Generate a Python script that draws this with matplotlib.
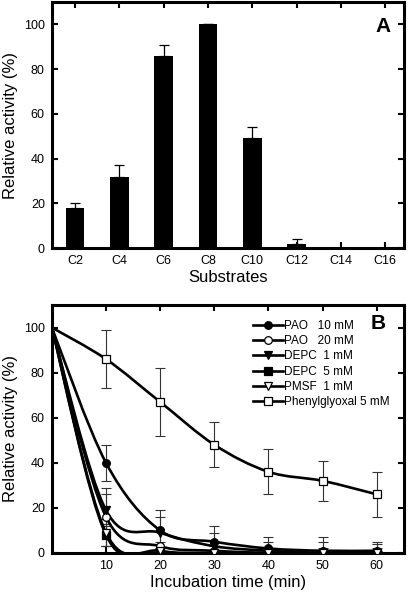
import matplotlib
matplotlib.use('Agg')
import matplotlib.pyplot as plt
import numpy as np
from matplotlib.path import Path
from matplotlib.patches import PathPatch

plt.rcParams['font.family'] = ['Liberation Sans', 'DejaVu Sans']

# panel A data
substrates = ['C2', 'C4', 'C6', 'C8', 'C10', 'C12', 'C14', 'C16']
activity = [18, 32, 86, 100, 49, 2, 0, 0]
activity_err = [2, 5, 5, 0, 5, 2, 0, 0]

# panel B data
time_min = [0, 10, 20, 30, 40, 50, 60]
pao10 = [100, 40, 10, 5, 2, 1, 1]
pao10_err = [0, 8, 9, 7, 5, 6, 4]
pao20 = [100, 16, 3, 1, 0, 0, 0]
pao20_err = [0, 13, 2, 2, 2, 2, 2]
depc1 = [100, 19, 9, 3, 1, 0, 0]
depc1_err = [0, 7, 7, 6, 4, 5, 4]
depc5 = [100, 8, 0, 0, 0, 0, 0]
depc5_err = [0, 5, 1, 1, 1, 1, 1]
pmsf1 = [100, 9, 1, 0, 0, 0, 0]
pmsf1_err = [0, 6, 1, 1, 1, 1, 1]
phenyl5 = [100, 86, 67, 48, 36, 32, 26]
phenyl5_err = [0, 13, 15, 10, 10, 9, 10]


def smooth_path(x, y):
    # Catmull-Rom segments written as cubic Bezier path pieces
    x = np.asarray(x, float); y = np.asarray(y, float)
    pts = np.column_stack([x, y])
    verts = [pts[0]]; codes = [Path.MOVETO]
    n = len(pts)
    for i in range(n - 1):
        p0 = pts[max(i - 1, 0)]; p1 = pts[i]; p2 = pts[i + 1]; p3 = pts[min(i + 2, n - 1)]
        c1 = p1 + (p2 - p0) / 6.0
        c2 = p2 - (p3 - p1) / 6.0
        verts += [c1, c2, p2]
        codes += [Path.CURVE4] * 3
    return Path(verts, codes)


def style_axes(ax):
    for sp in ax.spines.values():
        sp.set_linewidth(2.2)
    ax.tick_params(direction='in', length=4, width=1.5, top=True, right=True,
                   labelsize=9, pad=5)


fig = plt.figure(figsize=(4.08, 5.95), dpi=100)

# ---- panel A
axA = fig.add_axes([0.127, 0.583, 0.863, 0.4136])
xs = np.arange(len(substrates))
axA.bar(xs, activity, width=0.42, color='black', zorder=2)
axA.errorbar(xs, activity, yerr=[np.zeros(len(activity)), activity_err], fmt='none',
             ecolor='black', elinewidth=0.9, capsize=3.5, capthick=0.9, zorder=1)
axA.set_xlim(-0.52, 7.42)
axA.set_ylim(0, 110)
axA.set_xticks(xs)
axA.set_xticklabels(substrates)
axA.set_yticks(range(0, 101, 20))
axA.set_xlabel('Substrates', fontsize=12, labelpad=2)
axA.set_ylabel('Relative activity (%)', fontsize=12, labelpad=4)
style_axes(axA)
axA.text(0.94, 0.9, 'A', transform=axA.transAxes, fontsize=15, fontweight='bold',
         ha='center', va='center')

# ---- panel B
axB = fig.add_axes([0.127, 0.0706, 0.863, 0.4168])
series = [
    (pao10, pao10_err, 'o', 'black', 'PAO   10 mM'),
    (pao20, pao20_err, 'o', 'white', 'PAO   20 mM'),
    (depc1, depc1_err, 'v', 'black', 'DEPC  1 mM'),
    (depc5, depc5_err, 's', 'black', 'DEPC  5 mM'),
    (pmsf1, pmsf1_err, 'v', 'white', 'PMSF  1 mM'),
    (phenyl5, phenyl5_err, 's', 'white', 'Phenylglyoxal 5 mM'),
]
t = np.asarray(time_min)
for vals, err, mk, fc, lab in series:
    axB.add_patch(PathPatch(smooth_path(t, vals), facecolor='none', edgecolor='black',
                            lw=1.9, zorder=2))
    axB.errorbar(t[1:], vals[1:], yerr=err[1:], fmt='none', ecolor='#333333',
                 elinewidth=0.8, capsize=3.5, capthick=0.8, zorder=1)
    axB.plot(t[1:], vals[1:], linestyle='none', marker=mk, markersize=5.5,
             markerfacecolor=fc, markeredgecolor='black', markeredgewidth=0.9, zorder=3)
    axB.plot([], [], color='black', lw=1.9, marker=mk, markersize=5.5,
             markerfacecolor=fc, markeredgecolor='black', markeredgewidth=0.9, label=lab)
axB.set_xlim(0, 65)
axB.set_ylim(0, 110)
axB.set_xticks(range(10, 61, 10))
axB.set_yticks(range(0, 101, 20))
axB.set_xlabel('Incubation time (min)', fontsize=12, labelpad=2)
axB.set_ylabel('Relative activity (%)', fontsize=12, labelpad=4)
style_axes(axB)
axB.legend(loc='upper left', bbox_to_anchor=(0.57, 0.94), frameon=False, fontsize=8.5,
           handlelength=2.6, handletextpad=0.1, labelspacing=0.28, borderaxespad=0,
           borderpad=0)
axB.text(0.926, 0.927, 'B', transform=axB.transAxes, fontsize=15, fontweight='bold',
         ha='center', va='center')

fig.savefig('out.png', dpi=100)
